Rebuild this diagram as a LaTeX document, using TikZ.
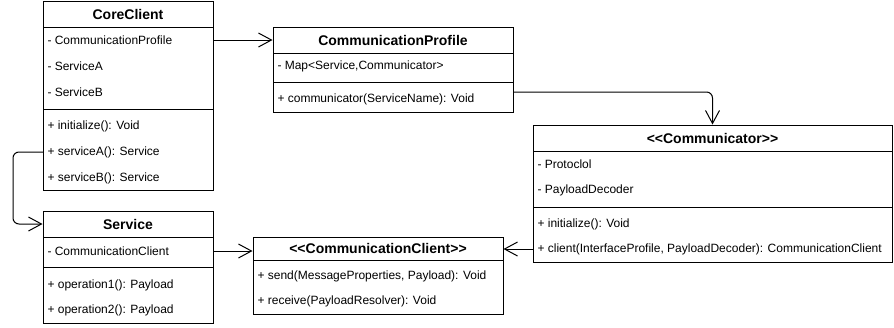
\documentclass[tikz,border=0pt]{standalone}
\usepackage{fontspec}
\newfontfamily\umlfont{Liberation Sans}
\newcommand\umltext{\umlfont\fontsize{12}{14}\selectfont}
\newcommand\umltitle{\umlfont\fontsize{14}{16}\selectfont\bfseries}
\usetikzlibrary{arrows.meta}

\tikzset{
  classhead/.style={draw, font=\umltitle, inner sep=0pt, minimum height=26pt},
  compart/.style={draw, inner sep=0pt},
  member/.style={anchor=west, inner xsep=4pt, inner ysep=0pt},
  assoc/.style={-{Straight Barb[length=13pt,width=14pt]}, rounded corners=6pt},
}

\begin{document}
\begin{tikzpicture}[x=1pt, y=-1pt, line width=1pt, font=\umltext]

  \useasboundingbox (0,0) rectangle (894,327);

  % CoreClient
  \node[classhead, minimum width=170pt] (core-head) at (128,14) {CoreClient};
  \node[compart, minimum width=170pt, minimum height=82pt] (core-attr) at (128,68) {};
  \node[compart, minimum width=170pt, minimum height=81pt] (core-ops) at (128,149.5) {};
  \node[member] (core-a1) at (43,40)  {- CommunicationProfile};
  \node[member] (core-a2) at (43,66)  {- ServiceA};
  \node[member] (core-a3) at (43,92)  {- ServiceB};
  \node[member] (core-o1) at (43,126) {+ initialize(): Void};
  \node[member] (core-o2) at (43,152) {+ serviceA(): Service};
  \node[member] (core-o3) at (43,178) {+ serviceB(): Service};

  % CommunicationProfile
  \node[classhead, minimum width=240pt] (prof-head) at (393,40) {CommunicationProfile};
  \node[compart, minimum width=240pt, minimum height=29pt] (prof-attr) at (393,67.5) {};
  \node[compart, minimum width=240pt, minimum height=30pt] (prof-ops) at (393,97) {};
  \node[member] (prof-a1) at (273,66) {- Map<Service,Communicator>};
  \node[member] (prof-o1) at (273,99) {+ communicator(ServiceName): Void};

  % <<Communicator>>
  \node[classhead, minimum width=359pt] (comm-head) at (712.5,138) {<<Communicator>>};
  \node[compart, minimum width=359pt, minimum height=56pt] (comm-attr) at (712.5,179) {};
  \node[compart, minimum width=359pt, minimum height=55pt] (comm-ops) at (712.5,234.5) {};
  \node[member] (comm-a1) at (533,164) {- Protoclol};
  \node[member] (comm-a2) at (533,190) {- PayloadDecoder};
  \node[member] (comm-o1) at (533,224) {+ initialize(): Void};
  \node[member] (comm-o2) at (533,249) {+ client(InterfaceProfile, PayloadDecoder): CommunicationClient};

  % Service
  \node[classhead, minimum width=170pt] (svc-head) at (128,224) {Service};
  \node[compart, minimum width=170pt, minimum height=30pt] (svc-attr) at (128,252) {};
  \node[compart, minimum width=170pt, minimum height=56pt] (svc-ops) at (128,295) {};
  \node[member] (svc-a1) at (43,251) {- CommunicationClient};
  \node[member] (svc-o1) at (43,285) {+ operation1(): Payload};
  \node[member] (svc-o2) at (43,310) {+ operation2(): Payload};

  % <<CommunicationClient>>
  \node[classhead, minimum width=250pt, minimum height=23pt] (cli-head) at (378,248.5) {<<CommunicationClient>>};
  \node[compart, minimum width=250pt, minimum height=54pt] (cli-ops) at (378,287) {};
  \node[member] (cli-o1) at (253,276) {+ send(MessageProperties, Payload): Void};
  \node[member] (cli-o2) at (253,301) {+ receive(PayloadResolver): Void};

  % associations
  \draw[assoc] (core-attr.east |- core-a1) -- (prof-head.west |- core-a1);
  \draw[assoc] ([yshift=5pt]prof-ops.east) -| (comm-head.north);
  \draw[assoc] (core-o2.west) -- ++(-30,0) |- (svc-head.west);
  \draw[assoc] (svc-attr.east |- svc-a1) -- (cli-head.west |- svc-a1);
  \draw[assoc] (comm-o2.west) -- (cli-head.east |- comm-o2);

\end{tikzpicture}
\end{document}
